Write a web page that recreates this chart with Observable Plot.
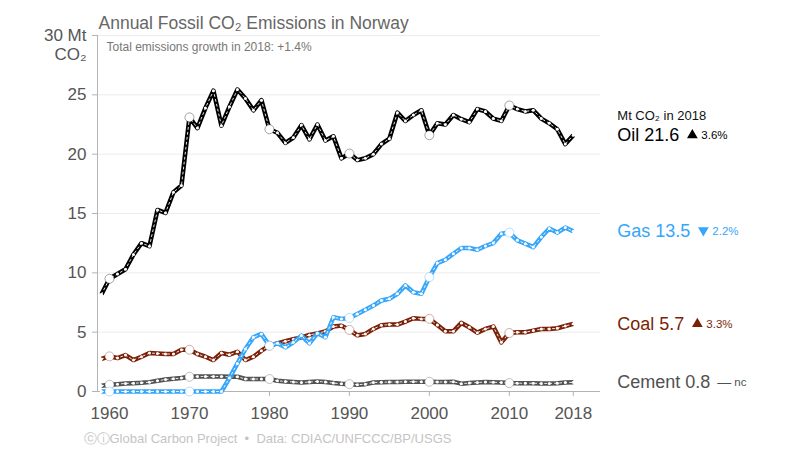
<!DOCTYPE html>
<html>
<head>
<meta charset="utf-8">
<script src="https://cdn.jsdelivr.net/npm/d3@7"></script>
<script src="https://cdn.jsdelivr.net/npm/@observablehq/plot@0.6"></script>
<style>
  html, body { margin: 0; padding: 0; background: #fff; }
</style>
</head>
<body>
<div id="chart"></div>
<script>
// ---------- data ----------
const years = d3.range(1959, 2019);
const oil = [8.2, 9.5, 9.9, 10.3, 11.55, 12.5, 12.25, 15.3, 15.05, 16.8,
  17.35, 23.1, 22.2, 23.9, 25.35, 22.4, 24.0, 25.45, 24.7, 23.7,
  24.55, 22.1, 21.8, 20.95, 21.4, 22.45, 21.25, 22.5, 21.15, 21.5,
  19.65, 20.05, 19.5, 19.65, 20.0, 20.85, 21.3, 23.5, 22.8, 23.3,
  23.7, 21.6, 22.6, 22.5, 23.3, 22.95, 22.7, 23.8, 23.6, 23.0,
  22.8, 24.1, 23.8, 23.6, 23.7, 23.0, 22.6, 22.1, 20.85, 21.6];
const gas = [0, 0, 0, 0, 0, 0, 0, 0, 0, 0,
  0, 0, 0, 0, 0, 0, 1.13, 2.37, 3.58, 4.57,
  4.85, 3.86, 4.06, 3.72, 4.14, 4.71, 4.06, 4.9, 4.57, 6.26,
  6.12, 6.2, 6.54, 6.88, 7.24, 7.67, 7.81, 8.23, 8.94, 8.37,
  8.23, 9.64, 10.82, 11.1, 11.61, 12.09, 12.09, 11.95, 12.26, 12.51,
  13.3, 13.39, 12.74, 12.46, 12.17, 13.02, 13.73, 13.39, 13.81, 13.5];
const coal = [2.74, 2.96, 2.82, 3.07, 2.65, 2.93, 3.24, 3.21, 3.16, 3.16,
  3.52, 3.52, 3.16, 2.93, 2.65, 3.24, 3.1, 3.35, 2.65, 2.93,
  3.44, 3.86, 4.06, 4.23, 4.4, 4.56, 4.77, 4.9, 5.07, 5.47,
  5.55, 5.19, 4.73, 4.85, 5.27, 5.58, 5.64, 5.64, 5.89, 6.17,
  6.12, 6.12, 5.61, 5.07, 5.07, 5.78, 5.41, 4.96, 5.27, 5.47,
  4.14, 4.93, 4.99, 5.0, 5.13, 5.27, 5.27, 5.33, 5.52, 5.7];
const cement = [0.48, 0.57, 0.62, 0.68, 0.7, 0.73, 0.79, 0.9, 1.01, 1.07,
  1.13, 1.24, 1.27, 1.27, 1.27, 1.27, 1.24, 1.24, 1.05, 1.05,
  1.05, 1.05, 0.9, 0.85, 0.8, 0.76, 0.8, 0.85, 0.8, 0.71,
  0.65, 0.62, 0.57, 0.62, 0.76, 0.78, 0.8, 0.8, 0.82, 0.82,
  0.82, 0.82, 0.8, 0.8, 0.82, 0.66, 0.71, 0.76, 0.8, 0.78,
  0.76, 0.71, 0.7, 0.7, 0.7, 0.68, 0.68, 0.7, 0.76, 0.77];

const seriesNames = ["Cement", "Coal", "Gas", "Oil"];          // drawing order (bottom → top)
const seriesValues = [cement, coal, gas, oil];
const seriesColors = ["#515151", "#7b1f07", "#36a6fb", "#000000"];
const changeDirections = ["none", "up", "down", "up"];
const changeTexts = ["nc", "3.3%", "2.2%", "3.6%"];

const xTicks = [1960, 1970, 1980, 1990, 2000, 2010, 2018];
const yTicks = [0, 5, 10, 15, 20, 25, 30];
const gridValues = [5, 10, 15, 20, 25, 30];
const markerYears = [1960, 1970, 1980, 1990, 2000, 2010];

const titleText = "Annual Fossil CO₂ Emissions in Norway";
const subtitleText = "Total emissions growth in 2018: +1.4%";
const legendTitleText = "Mt CO₂ in 2018";
const unitLines = ["30 Mt", "CO₂"];
const sourceText = "ⓒⓘGlobal Carbon Project  •  Data: CDIAC/UNFCCC/BP/USGS";

// ---------- helpers ----------
const FONT = "'Liberation Sans', Arial, Helvetica, sans-serif";
const ctx = document.createElement("canvas").getContext("2d");
function textWidth(str, size) {
  ctx.font = `${size}px ${FONT}`;
  return ctx.measureText(str).width;
}

const xDomain = [1958.5, 2021.4];
const LABEL_DX = 44;
const LABEL_SIZE = 18;

const marks = [];

// grid + axis lines
marks.push(Plot.ruleY(gridValues, {stroke: "#ececec", strokeWidth: 1}));
marks.push(Plot.ruleY([0], {stroke: "#b3b3b3", strokeWidth: 1}));
marks.push(Plot.ruleX([xDomain[0]], {y1: 0, y2: 30, stroke: "#b3b3b3", strokeWidth: 1}));

// axes
marks.push(Plot.axisY({
  ticks: yTicks, tickSize: 5, tickPadding: 6, fontSize: 17,
  fill: "#555", stroke: "#b3b3b3",
  tickFormat: d => d === 30 ? unitLines[0] : String(d), label: null
}));
marks.push(Plot.axisX({
  ticks: xTicks, tickSize: 5, tickPadding: 10, fontSize: 17,
  fill: "#555", stroke: "#b3b3b3",
  tickFormat: d => String(d), label: null
}));
marks.push(Plot.text([unitLines[1]], {
  frameAnchor: "top-left", text: d => d, dx: -11, dy: 19, lineAnchor: "middle",
  textAnchor: "end", fontSize: 17, fill: "#555"
}));

// series
seriesNames.forEach((name, i) => {
  const rows = years.map((yr, j) => ({year: yr, value: seriesValues[i][j]}));
  const color = seriesColors[i];
  marks.push(Plot.line(rows, {x: "year", y: "value", stroke: color, strokeWidth: 4.5,
    strokeLinejoin: "round", strokeLinecap: "butt"}));
  marks.push(Plot.line(rows, {x: "year", y: "value", stroke: "#fff", strokeWidth: 1,
    strokeDasharray: "2,3", strokeOpacity: 0.9}));
  marks.push(Plot.dot(rows, {x: "year", y: "value", r: 1.5, fill: "#fff", stroke: null}));
  marks.push(Plot.dot(rows.filter(d => markerYears.includes(d.year)),
    {x: "year", y: "value", r: 4.5, fill: "#fff", stroke: color, strokeOpacity: 0.35, strokeWidth: 1}));

  // right-hand labels
  const last = rows[rows.length - 1];
  const label = `${name} ${last.value.toFixed(1)}`;
  const w = textWidth(label, LABEL_SIZE);
  marks.push(Plot.text([last], {x: "year", y: "value", text: () => label,
    dx: LABEL_DX, textAnchor: "start", fontSize: LABEL_SIZE, fill: color}));
  const dir = changeDirections[i];
  if (dir === "none") {
    marks.push(Plot.text([last], {x: "year", y: "value", text: () => "—",
      dx: LABEL_DX + w + 7, textAnchor: "start", fontSize: 14, fill: color}));
    marks.push(Plot.text([last], {x: "year", y: "value", text: () => changeTexts[i],
      dx: LABEL_DX + w + 24, textAnchor: "start", fontSize: 11.5, fill: color}));
  } else {
    marks.push(Plot.dot([last], {x: "year", y: "value", symbol: "triangle", r: 4,
      dx: LABEL_DX + w + 13, dy: dir === "down" ? -1 : 0, rotate: dir === "down" ? 180 : 0,
      fill: color, stroke: null}));
    marks.push(Plot.text([last], {x: "year", y: "value", text: () => changeTexts[i],
      dx: LABEL_DX + w + 22, textAnchor: "start", fontSize: 11.5, fill: color}));
  }
  if (name === "Oil") {
    marks.push(Plot.text([last], {x: "year", y: "value", text: () => legendTitleText,
      dx: LABEL_DX, dy: -19, textAnchor: "start", fontSize: 13, fill: "#111"}));
  }
});

// title, subtitle, source
marks.push(Plot.text([titleText], {frameAnchor: "top-left", text: d => d, dx: 1, dy: -12,
  lineAnchor: "middle", textAnchor: "start", fontSize: 17.5, fill: "#666"}));
marks.push(Plot.text([subtitleText], {frameAnchor: "top-left", text: d => d, dx: 9, dy: 12,
  lineAnchor: "middle", textAnchor: "start", fontSize: 12, fill: "#777"}));
marks.push(Plot.text([sourceText], {frameAnchor: "bottom-left", text: d => d, dx: -14, dy: 47,
  lineAnchor: "middle", textAnchor: "start", fontSize: 13, fill: "#c4c4c4"}));

const chart = Plot.plot({
  width: 800,
  height: 450,
  marginLeft: 97,
  marginRight: 200,
  marginTop: 35,
  marginBottom: 59,
  style: {fontFamily: FONT, background: "#fff", overflow: "visible"},
  x: {domain: xDomain},
  y: {domain: [0, 30]},
  marks
});
document.getElementById("chart").append(chart);
</script>
</body>
</html>
